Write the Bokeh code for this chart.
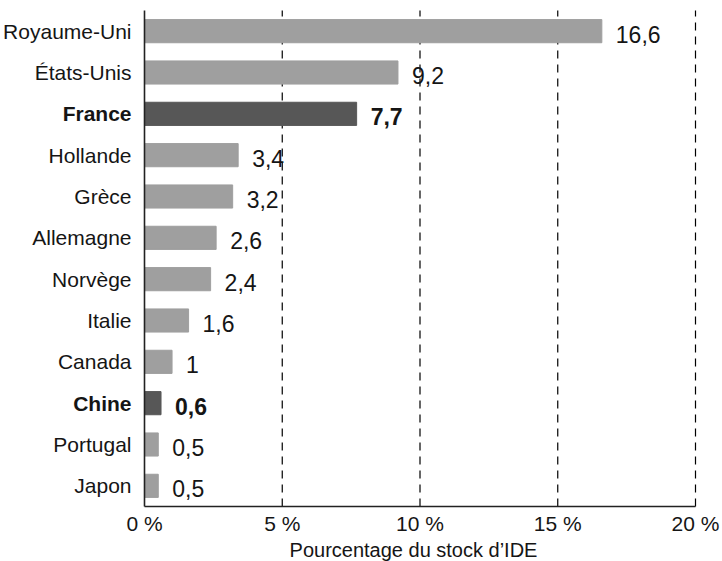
from bokeh.plotting import figure
from bokeh.models import ColumnDataSource, Range1d
from bokeh.embed import file_html
from bokeh.resources import INLINE
from bokeh.core.properties import value

# ---- data ----
countries = ["Royaume-Uni", "États-Unis", "France", "Hollande", "Grèce", "Allemagne",
             "Norvège", "Italie", "Canada", "Chine", "Portugal", "Japon"]
shares = [16.6, 9.2, 7.7, 3.4, 3.2, 2.6, 2.4, 1.6, 1.0, 0.6, 0.5, 0.5]
value_labels = ["16,6", "9,2", "7,7", "3,4", "3,2", "2,6", "2,4", "1,6", "1", "0,6", "0,5", "0,5"]
highlight = ["France", "Chine"]
x_ticks = [0, 5, 10, 15, 20]
x_tick_labels = ["0 %", "5 %", "10 %", "15 %", "20 %"]
x_title = "Pourcentage du stock d’IDE"

# ---- layout (pixels) ----
W, H = 722, 561
AX_LEFT, AX_RIGHT = 144, 695      # screen x of 0 % and 20 %
AX_TOP, AX_BOTTOM = 10, 506       # screen y of the plotting band
LIGHT, DARK, INK = "#9f9f9f", "#575757", "#151515"
FONT = "Liberation Sans"
VALUE_DROP_PX = 3

n = len(countries)
xmin, xmax = x_ticks[0], x_ticks[-1]
sx = (AX_RIGHT - AX_LEFT) / (xmax - xmin)
sy = (AX_BOTTOM - AX_TOP) / n
x_start = xmin - AX_LEFT / sx
x_end = xmax + (W - AX_RIGHT) / sx
y_lo = -0.5
y_hi = n - 0.5
y_start = y_lo - (H - AX_BOTTOM) / sy
y_end = y_hi + AX_TOP / sy

ypos = [n - 1 - i for i in range(n)]
ytext = [y - VALUE_DROP_PX / sy for y in ypos]
colors = [DARK if c in highlight else LIGHT for c in countries]
weights = ["bold" if c in highlight else "normal" for c in countries]

src = ColumnDataSource(dict(y=ypos, yt=ytext, x=shares, color=colors, lab=value_labels,
                            name=countries, w=weights))

p = figure(width=W, height=H, output_backend="svg", toolbar_location=None,
           x_range=Range1d(x_start, x_end), y_range=Range1d(y_start, y_end),
           min_border=0, x_axis_type=None, y_axis_type=None)
p.outline_line_color = None
p.grid.visible = False

# dashed vertical grid lines
p.segment(x0=x_ticks[1:], x1=x_ticks[1:], y0=[y_lo] * (len(x_ticks) - 1),
          y1=[y_hi] * (len(x_ticks) - 1), line_color="black", line_width=1.2,
          line_dash="8 6")

# bars
p.hbar(y="y", left=xmin, right="x", height=0.56, color="color", source=src)

# axis lines
p.segment(x0=[xmin], x1=[xmin], y0=[y_lo], y1=[y_hi], line_color="#222222", line_width=1.6)
p.segment(x0=[xmin], x1=[xmax], y0=[y_lo], y1=[y_lo], line_color="#222222", line_width=1.6)

# value labels
p.text(x="x", y="yt", text="lab", source=src, x_offset=14, text_baseline="middle",
       text_align="left", text_font=value(FONT), text_font_size="23px",
       text_font_style="w", text_color=INK)

# category labels
p.text(x=xmin, y="y", text="name", source=src, x_offset=-13, text_baseline="middle",
       text_align="right", text_font=value(FONT), text_font_size="21px",
       text_font_style="w", text_color=INK)

# x tick labels
p.text(x=x_ticks, y=[y_lo - 17 / sy] * len(x_ticks), text=x_tick_labels,
       text_align="center", text_baseline="middle", text_font=value(FONT),
       text_font_size="21px", text_color=INK)

# x axis title
p.text(x=[xmin + (413 - AX_LEFT) / sx], y=[y_lo - 43 / sy], text=[x_title],
       text_align="center", text_baseline="middle", text_font=value(FONT),
       text_font_size="20px", text_color=INK)

open("out.html", "w").write(file_html(p, INLINE))
